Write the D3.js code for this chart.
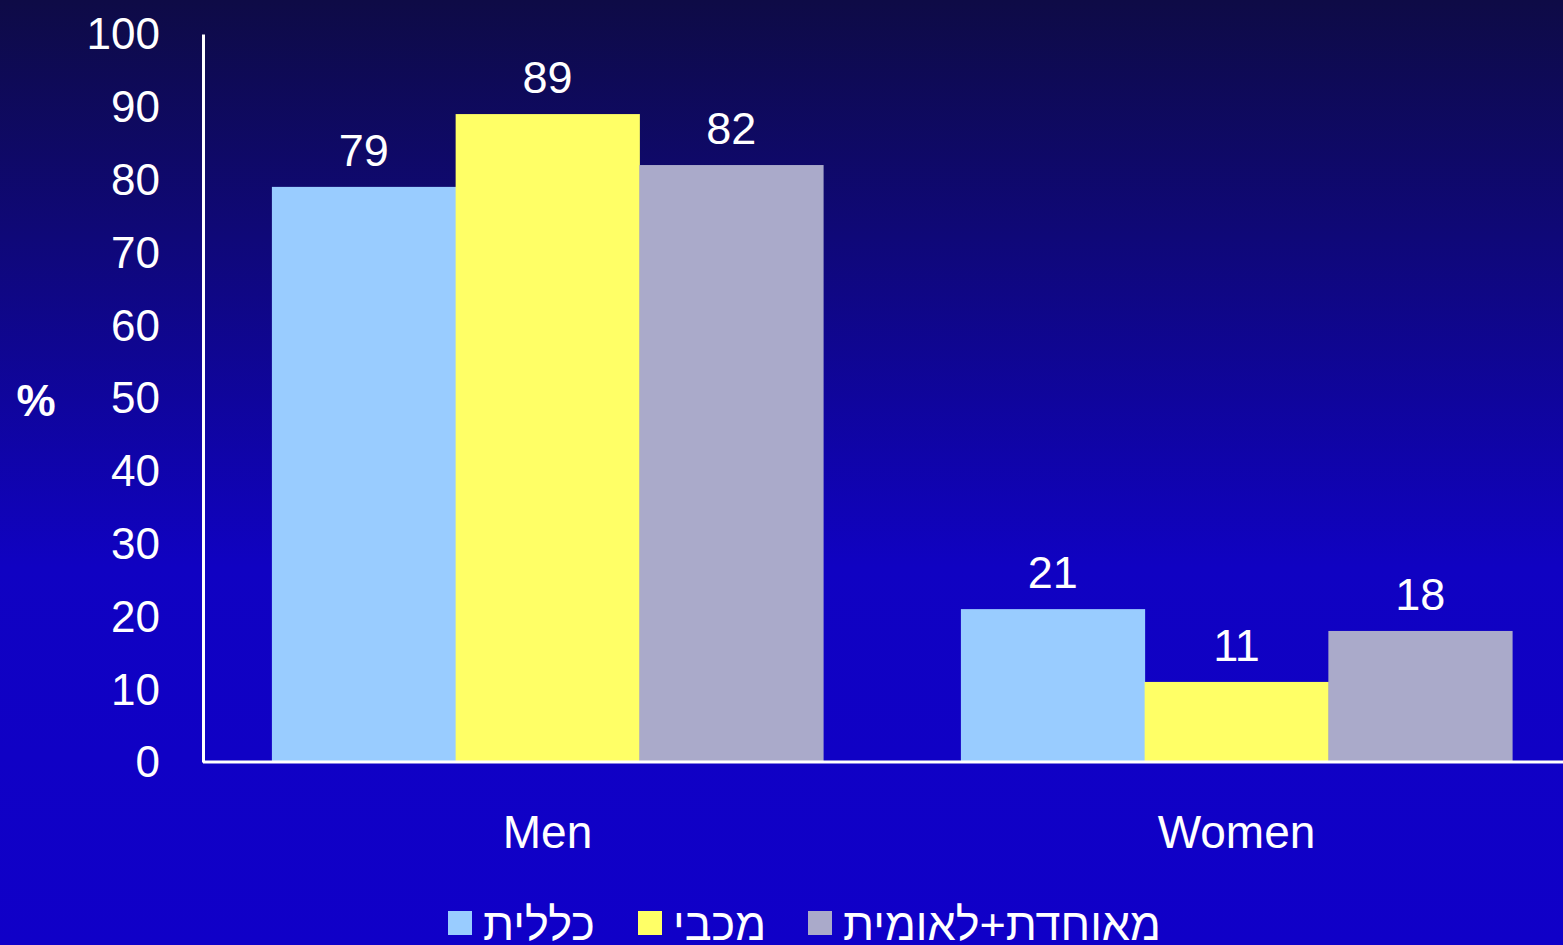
<!DOCTYPE html>
<html>
<head>
<meta charset="utf-8">
<script src="https://cdn.jsdelivr.net/npm/d3@7"></script>
<style>
  html, body { margin: 0; padding: 0; overflow: hidden; }
  svg { display: block; font-family: "Liberation Sans", Arial, sans-serif; }
</style>
</head>
<body>
<div class="main-container"></div>
<script>
// data
const groups = ["Men", "Women"];
const seriesNames = ["כללית", "מכבי", "מאוחדת+לאומית"];
const seriesColors = ["#99ccff", "#ffff66", "#aaaaca"];
const menValues = [79, 89, 82];
const womenValues = [21, 11, 18];
const yTicks = [0, 10, 20, 30, 40, 50, 60, 70, 80, 90, 100];

const values = [menValues, womenValues];

const width = 1563, height = 945;

const svg = d3.select(".main-container")
  .append("svg")
  .attr("width", width)
  .attr("height", height);

// background gradient
const grad = svg.append("defs").append("linearGradient")
  .attr("id", "bg")
  .attr("x1", 0).attr("y1", 0).attr("x2", 0).attr("y2", 1);
grad.append("stop").attr("offset", "0%").attr("stop-color", "#0e0b46");
grad.append("stop").attr("offset", "25%").attr("stop-color", "#0f0878");
grad.append("stop").attr("offset", "60%").attr("stop-color", "#1002c2");
grad.append("stop").attr("offset", "100%").attr("stop-color", "#1000c8");

svg.append("rect")
  .attr("width", width)
  .attr("height", height)
  .attr("fill", "url(#bg)");

let x = d3.scaleBand()
  .domain(groups)
  .range([203, 1581])
  .paddingInner(0.2)
  .paddingOuter(0.1);

let xs = d3.scaleBand()
  .domain(seriesNames)
  .range([0, x.bandwidth()]);

let y = d3.scaleLinear()
  .domain([0, 100])
  .range([762, 34]);

// bars
const g = svg.selectAll("g.group")
  .data(groups)
  .join("g")
  .attr("class", "group")
  .attr("transform", d => "translate(" + x(d) + ",0)");

g.selectAll("rect")
  .data((d, i) => values[i].map((v, j) => ({name: seriesNames[j], value: v, color: seriesColors[j]})))
  .join("rect")
  .attr("x", d => xs(d.name))
  .attr("width", xs.bandwidth() + 0.5)
  .attr("y", d => y(d.value))
  .attr("height", d => y(0) - y(d.value))
  .attr("fill", d => d.color);

g.selectAll("text.val")
  .data((d, i) => values[i].map((v, j) => ({name: seriesNames[j], value: v})))
  .join("text")
  .attr("class", "val")
  .attr("x", d => xs(d.name) + xs.bandwidth() / 2)
  .attr("y", d => y(d.value) - 21)
  .attr("text-anchor", "middle")
  .attr("fill", "#fff")
  .attr("font-size", 45)
  .text(d => d.value);

// y axis
const yAxis = svg.append("g")
  .attr("transform", "translate(203,0)")
  .call(d3.axisLeft(y).tickValues(yTicks).tickSize(0).tickPadding(43));
yAxis.select(".domain").attr("stroke", "#fff").attr("stroke-width", 3);
yAxis.selectAll("text")
  .attr("fill", "#fff")
  .attr("font-size", 44)
  .attr("font-family", "Liberation Sans, Arial, sans-serif")
  .attr("dy", "0.34em");

// x axis
const xAxis = svg.append("g")
  .attr("transform", "translate(0,762)")
  .call(d3.axisBottom(x).tickSize(0).tickPadding(53));
xAxis.select(".domain").attr("stroke", "#fff").attr("stroke-width", 3)
  .attr("d", "M203,0H1563");
xAxis.selectAll("text")
  .attr("fill", "#fff")
  .attr("font-size", 46)
  .attr("font-family", "Liberation Sans, Arial, sans-serif")
  .attr("dy", "0.71em");

// y label
svg.append("text")
  .attr("x", 36)
  .attr("y", 416)
  .attr("text-anchor", "middle")
  .attr("fill", "#fff")
  .attr("font-size", 44)
  .attr("font-weight", "bold")
  .text("%");

// legend
const legendX = [448, 638, 808];
const legend = svg.selectAll("g.legend")
  .data(seriesNames)
  .join("g")
  .attr("class", "legend")
  .attr("transform", (d, i) => "translate(" + legendX[i] + ",0)");

legend.append("rect")
  .attr("x", 0)
  .attr("y", 911)
  .attr("width", 24)
  .attr("height", 24)
  .attr("fill", (d, i) => seriesColors[i]);

legend.append("text")
  .attr("x", 35)
  .attr("y", 940)
  .attr("fill", "#fff")
  .attr("font-size", 45)
  .attr("text-anchor", "start")
  .style("direction", "ltr")
  .style("unicode-bidi", "plaintext")
  .text(d => d);
</script>
</body>
</html>
